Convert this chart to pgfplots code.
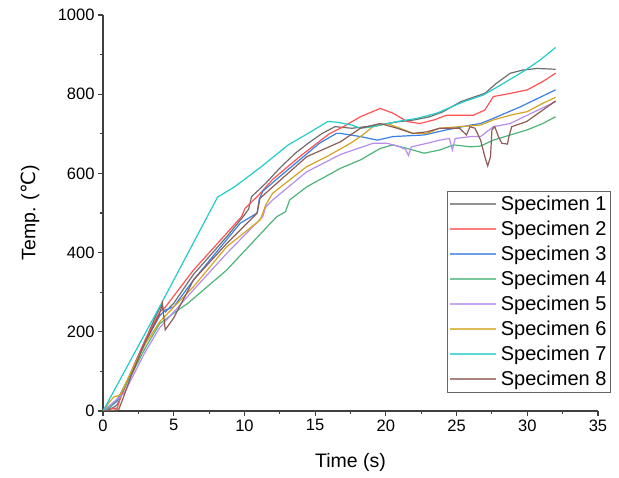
\documentclass[border=0pt]{standalone}
\usepackage{pgfplots}
\pgfplotsset{compat=1.18}
\usepackage{fontspec}
\setmainfont{Liberation Sans}
\newfontfamily\dejavu{DejaVu Sans}
\definecolor{sOne}{HTML}{6E6E6E}
\definecolor{sTwo}{HTML}{FF5252}
\definecolor{sThree}{HTML}{3A7FE6}
\definecolor{sFour}{HTML}{4BB57A}
\definecolor{sFive}{HTML}{B78CF0}
\definecolor{sSix}{HTML}{D4A520}
\definecolor{sSeven}{HTML}{22CCCC}
\definecolor{sEight}{HTML}{8E5B57}
\begin{document}
\begin{tikzpicture}
\begin{axis}[
  scale only axis,width=495pt,height=396pt,
  xmin=0,xmax=35,ymin=0,ymax=1000,
  axis x line*=bottom,axis y line*=left,
  axis line style={black!75,line width=1.2pt},
  tick align=outside,
  major tick length=5pt,minor tick length=3pt,
  tick style={black!75,line width=1.1pt},
  xtick={0,5,...,35},ytick={0,200,...,1000},
  minor x tick num=1,minor y tick num=1,
  /pgf/number format/assume math mode=true,
  /pgf/number format/1000 sep={},
  tick label style={font=\fontsize{16.5}{18}\selectfont},
  xlabel={Time (s)},
  ylabel={Temp. ({\dejavu ℃})},
  label style={font=\fontsize{19.5}{22}\selectfont},
  xlabel style={at={(axis description cs:0.5,-0.131)},anchor=center},
  ylabel style={at={(axis description cs:-0.147,0.5)},anchor=center},
  every axis plot/.append style={line width=1.2pt},
  legend cell align=left,
  legend image code/.code={\draw[#1,line width=2pt,opacity=0.75] (0pt,0pt) -- (46pt,0pt);},
  legend style={at={(rel axis cs:0.695,0.556)},anchor=north west,
    draw=black!60,line width=0.7pt,inner xsep=2pt,inner ysep=3.5pt,
    row sep=6pt,column sep=2pt,
    font=\fontsize{20}{22}\selectfont,
    nodes={inner xsep=1.5pt,inner ysep=1.5pt}},
]
% Specimen 1
\addplot[sOne] coordinates {
(0,0) (0.5,4) (1,15) (1.5,55) (2,100) (3,180) (3.8,245) (4.1,266) (4.4,250)
(5,272) (6.4,345) (8.75,440) (10,495) (10.3,510) (10.5,541) (11.5,575)
(12.6,617) (13.6,651) (14.5,676) (15.5,701) (16.4,718) (17.6,714) (19.1,720)
(20.8,730) (22,735) (23.1,743) (24,755) (25.3,781) (26,790) (27,802)
(27.8,827) (28.8,853) (29.7,861) (30.7,865) (32,863)};
% Specimen 2
\addplot[sTwo] coordinates {
(0,0) (0.3,7) (1,7) (1.3,40) (2,100) (3,180) (4,250) (4.4,262) (6.4,356)
(8.75,449) (9.8,491) (10.05,512) (10.4,524) (11,545) (12,585) (14,645)
(16,700) (17,718) (18.2,743) (19.6,764) (20.5,752) (21.5,731) (22.4,726)
(23.4,735) (24.3,747) (26.2,747) (27,760) (27.6,794) (28.8,802) (30,811)
(31.1,832) (32,853)};
% Specimen 3
\addplot[sThree] coordinates {
(0,0) (0.5,10) (1,25) (2,95) (3,175) (4,240) (4.4,255) (5,263) (6.4,331)
(9.7,474) (10.9,500) (11.05,535) (11.3,555) (12.5,592) (13.9,634) (15.3,676)
(16.5,701) (16.8,701) (18.2,693) (19.4,684) (20.5,693) (22.7,697) (24.3,710)
(26,722) (26.7,726) (27.6,739) (29.5,768) (32,811)};
% Specimen 4
\addplot[sFour] coordinates {
(0,0) (0.5,10) (1,30) (2,90) (3,160) (4,220) (5,247) (6,272) (8.75,356)
(11.6,465) (12.3,491) (12.9,503) (13.2,533) (14.4,566) (16.8,613) (18.2,634)
(19.6,663) (20.5,672) (21.5,663) (22.7,651) (23.8,659) (24.8,672) (26,667)
(26.7,669) (27.6,684) (28.8,697) (30,710) (31.1,726) (32,743)};
% Specimen 5
\addplot[sFive] coordinates {
(0,0) (0.5,15) (1.06,32) (1.5,45) (2,80) (3,150) (4,210) (5,250) (6.4,306)
(8.75,398) (11.3,491) (11.5,515) (12,533) (14.4,604) (16.8,648) (17.7,659)
(19.1,676) (20.1,676) (21,667) (21.4,660) (21.6,645) (21.8,667) (22.9,676)
(23.8,684) (24.5,688) (24.7,659) (24.9,688) (26,693) (26.7,693) (27.6,718)
(28.8,726) (30,747) (32,781)};
% Specimen 6
\addplot[sSix] coordinates {
(0,0) (0.5,25) (0.8,36) (1.2,40) (2,100) (3,170) (4,225) (4.4,240) (6.4,314)
(8.75,415) (11.1,482) (11.3,500) (11.5,520) (12,550) (14.4,617) (15.8,642)
(17.5,676) (18.2,693) (19.1,718) (20.1,726) (21,714) (21.9,701) (22.9,701)
(23.8,714) (25.2,718) (26.7,722) (27.6,735) (28.8,747) (30,756) (31.1,777)
(32,792)};
% Specimen 7
\addplot[sSeven] coordinates {
(0,0) (4,263) (8.1,540) (9.3,566) (11.2,617) (13.1,672) (14.5,701) (15.9,731)
(16.6,729) (17.6,722) (18.2,714) (19.1,718) (20.8,731) (22.2,739) (23.6,752)
(25.5,781) (26.9,798) (28.3,827) (29.7,857) (30.9,886) (32,918)};
% Specimen 8
\addplot[sEight] coordinates {
(0,0) (1.1,3) (1.4,30) (2,90) (3,175) (4,245) (4.2,272) (4.4,205) (5,235)
(6.4,331) (8.75,423) (10.9,500) (11.1,537) (12,566) (14.4,642) (16.8,680)
(18.2,714) (19.6,726) (20.8,714) (21.9,701) (22.9,705) (23.8,714) (25.2,714)
(25.7,697) (25.95,718) (26.3,714) (26.7,684) (27,642) (27.2,619) (27.4,642)
(27.5,710) (27.7,718) (27.96,693) (28.2,676) (28.6,674) (28.7,693) (28.9,718)
(29.96,731) (31.1,760) (32,783)};
\legend{Specimen 1,Specimen 2,Specimen 3,Specimen 4,Specimen 5,Specimen 6,Specimen 7,Specimen 8}
\end{axis}
\pgfresetboundingbox
\path[use as bounding box] (-103pt,-67pt) rectangle (516pt,411pt);
\end{tikzpicture}
\end{document}
